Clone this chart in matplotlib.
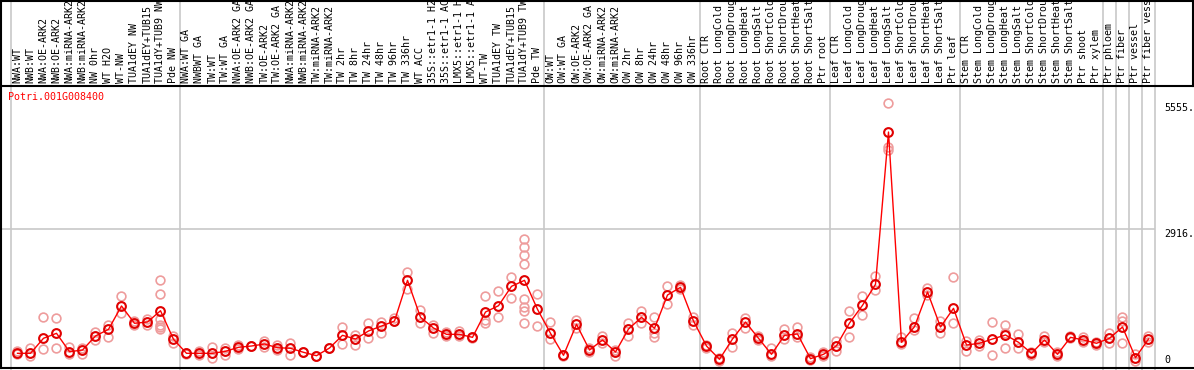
import matplotlib
matplotlib.use("Agg")
import matplotlib.pyplot as plt
import matplotlib.transforms as mtransforms
from matplotlib.lines import Line2D

# ==========================
# Donnees
# ==========================
gene = "Potri.001G008400"

sample_labels = [
    "NWA:WT", "NWB:WT", "NWA:OE-ARK2", "NWB:OE-ARK2", "NWA:miRNA-ARK2",
    "NWB:miRNA-ARK2", "NW 0hr", "WT H2O", "WT-NW", "TUA1dEY NW",
    "TUA1dEY+TUB15", "TUA1dY+TUB9 NW", "Pde NW",
    "NWA:WT GA", "NWBWT GA", "TW:WT", "TW:WT GA", "NWA:OE-ARK2 GA",
    "NWB:OE-ARK2 GA", "TW:OE-ARK2", "TW:OE-ARK2 GA", "NWA:miRNA-ARK2",
    "NWB:miRNA-ARK2", "TW:miRNA-ARK2", "TW:miRNA-ARK2", "TW 2hr", "TW 8hr",
    "TW 24hr", "TW 48hr", "TW 96hr", "TW 336hr", "WT ACC", "35S::etr1-1 H2",
    "35S::etr1-1 AC", "LMX5::etr1-1 H", "LMX5::etr1-1 A", "WT-TW",
    "TUA1dEY TW", "TUA1dEY+TUB15", "TUA1dY+TUB9 TW", "Pde TW",
    "OW:WT", "OW:WT GA", "OW:OE-ARK2", "OW:OE-ARK2 GA", "OW:miRNA-ARK2",
    "OW:miRNA-ARK2", "OW 2hr", "OW 8hr", "OW 24hr", "OW 48hr", "OW 96hr",
    "OW 336hr",
    "Root CTR", "Root LongCold", "Root LongDroug", "Root LongHeat",
    "Root LongSalt", "Root ShortCold", "Root ShortDrou", "Root ShortHeat",
    "Root ShortSalt", "Ptr root",
    "Leaf CTR", "Leaf LongCold", "Leaf LongDroug", "Leaf LongHeat",
    "Leaf LongSalt", "Leaf ShortCold", "Leaf ShortDrou", "Leaf ShortHeat",
    "Leaf ShortSalt", "Ptr leaf",
    "Stem CTR", "Stem LongCold", "Stem LongDroug", "Stem LongHeat",
    "Stem LongSalt", "Stem ShortCold", "Stem ShortDrou", "Stem ShortHeat",
    "Stem ShortSalt", "Ptr shoot", "Ptr xylem",
    "Ptr phloem", "Ptr fiber", "Ptr vessel", "Ptr fiber vess",
]

mean_values = [
    308, 308, 623, 727, 342, 377, 671, 811, 1300, 937, 964, 1201, 602,
    308, 308, 308, 350, 434, 461, 503, 425, 413, 329, 258, 419, 685, 608,
    776, 880, 985, 1838, 1063, 838, 706, 706, 643, 1174, 1306, 1712, 1838,
    1230,
    727, 266, 916, 377, 587, 335, 817, 1063, 832, 1530, 1691, 985,
    461, 182, 608, 964, 623, 287, 685, 713, 195, 287,
    467, 943, 1314, 1754, 4947, 539, 866, 1593, 859, 1251,
    482, 518, 608, 692, 539, 308, 587, 287, 643, 587, 518,
    623, 859, 216, 608,
]

replicates = [
    [363, 293], [419, 252], [1069, 398], [1048, 419], [440, 293], [419, 293],
    [755, 587], [901, 650], [1509, 1153], [985, 901], [1027, 901],
    [1844, 1551, 1027, 901, 859, 817], [671, 524],
    [314, 300], [356, 272], [440, 210], [419, 272], [482, 398], [461, 461],
    [566, 440], [482, 377], [524, 272], [335, 335], [252, 262], [419, 419],
    [859, 503], [692, 482], [943, 629], [964, 734], [1048, 985],
    [2012, 1656], [1216, 943], [901, 734], [755, 671], [776, 671],
    [650, 629], [1509, 1006, 943], [1614, 1069], [1907, 1467],
    [2704, 2536, 2368, 2180, 1446, 1279, 1195, 943], [1551, 880],
    [964, 608], [272, 262], [1006, 838], [419, 335], [671, 524], [252, 377],
    [943, 671], [1195, 943], [1069, 734, 650], [1719, 1341], [1740, 1656],
    [1069, 901],
    [482, 419], [210, 147], [734, 440], [1048, 838], [671, 587], [419, 252],
    [817, 608], [859, 650], [231, 168], [335, 252],
    [566, 356], [1195, 650], [1509, 1111], [1928, 1635], [5555, 4632, 4569],
    [650, 503], [1048, 796], [1677, 1530], [985, 734], [1907, 943],
    [566, 356], [587, 461], [964, 272], [901, 734, 419], [713, 419],
    [335, 272], [671, 545], [335, 252], [671, 629], [650, 545], [545, 482],
    [734, 524], [1069, 985, 524], [293, 147], [671, 545],
]

# limites des groupes (indice du premier echantillon de chaque bloc)
group_starts = [0, 13, 41, 53, 63, 73, 84, 85, 86, 87, 88]

y_ticks = [0, 2916, 5555]
y_tick_labels = ["0", "2916.", "5555."]

# ==========================
# Figure
# ==========================
W, H = 1194, 370
fig = plt.figure(figsize=(W / 100, H / 100), dpi=100)
fig.patch.set_facecolor("white")

font = {"family": "DejaVu Sans Mono", "size": 7.2}

ax = fig.add_axes([1 / W, (H - 368) / H, (1155 - 1) / W, (368 - 86) / H])
ax.set_xlim(-16.5 / 13, 87.5)
ax.set_ylim(0, 5912)
ax.set_xticks([])
ax.set_yticks([])
for side in ["top", "right", "left", "bottom"]:
    ax.spines[side].set_visible(False)

xs = list(range(len(mean_values)))

# replicats (cercles pales)
for x, reps in zip(xs, replicates):
    ax.plot([x] * len(reps), reps, linestyle="none", marker="o", ms=6.3,
            mfc="none", mec="#EE9C9C", mew=1.2, zorder=2)

# moyenne
ax.plot(xs, mean_values, color="#FF0000", lw=1.0, marker="o", ms=6.3,
        mfc="none", mec="#E00000", mew=1.5, zorder=3)

# ligne grise horizontale
ax.axhline(2916, color="#C8C8C8", lw=1.2, zorder=1)

# separateurs verticaux (plot + entete)
blend = mtransforms.blended_transform_factory(ax.transData, fig.transFigure)
for b in group_starts:
    ax.plot([b - 0.5, b - 0.5], [0, 1], color="#C8C8C8", lw=1.2,
            transform=blend, clip_on=False, zorder=1)

# etiquettes des echantillons
for x, lab in zip(xs, sample_labels):
    ax.text(x, 1 - 83 / H, lab, rotation=90, ha="center", va="bottom",
            transform=blend, clip_on=False, **font)

# nom du gene
ax.text(7 / 1154, 1 - 11 / 282, gene, color="#FF0000", ha="left",
        va="center", transform=ax.transAxes, **font)

# valeurs de l'axe y a droite
yblend = mtransforms.blended_transform_factory(ax.transAxes, ax.transData)
for v, lab in zip(y_ticks, y_tick_labels):
    if v == 0:
        ax.text((1164 - 1) / 1154, v + 60, lab, ha="left", va="bottom",
                transform=yblend, clip_on=False, **font)
    else:
        ax.text((1164 - 1) / 1154, v, lab, ha="left", va="top",
                transform=yblend, clip_on=False, **font)

# bordures noires
def px_line(x0, y0, x1, y1):
    fig.add_artist(Line2D([x0 / W, x1 / W], [1 - y0 / H, 1 - y1 / H],
                          color="black", lw=1.5, transform=fig.transFigure))

px_line(0, 0.5, W, 0.5)
px_line(0, 86, W, 86)
px_line(0, 368, W, 368)
px_line(1, 0, 1, 368)
px_line(W - 1, 0, W - 1, 86)

plt.savefig("out.png", dpi=100)
